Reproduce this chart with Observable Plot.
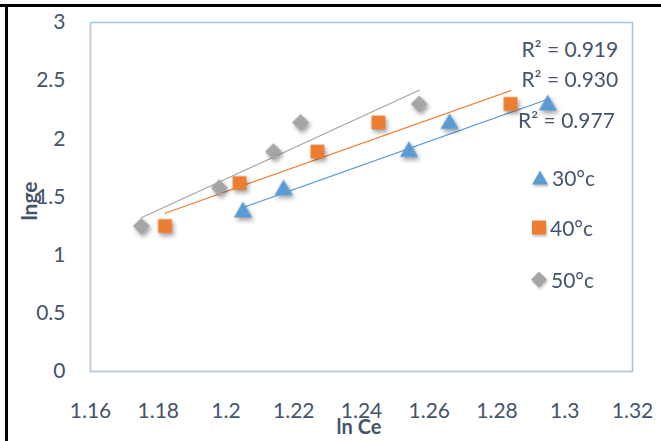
<!DOCTYPE html>
<html><head><meta charset="utf-8">
<script src="https://cdn.jsdelivr.net/npm/d3@7"></script>
<script src="https://cdn.jsdelivr.net/npm/@observablehq/plot@0.6"></script>
<style>
body{margin:0;background:#fff;}
#wrap{position:relative;width:661px;height:441px;overflow:hidden;font-family:Lato,"Open Sans",sans-serif;color:#44546a;}
.bt{position:absolute;left:0;top:4px;width:661px;height:3px;background:#000;}
.bl{position:absolute;left:5px;top:4px;width:3px;height:437px;background:#000;}
#chart svg g[aria-label="dot"]{filter:drop-shadow(2px 3px 2px rgba(0,0,0,0.35));}
.ttl{position:absolute;font-size:21px;font-weight:bold;white-space:nowrap;line-height:1;}
.leg{position:absolute;display:flex;align-items:center;font-size:21px;line-height:1;}
.leg svg{margin-right:3px;filter:drop-shadow(1px 2px 1px rgba(0,0,0,0.25));}
</style></head>
<body>
<div id="wrap">
  <div id="chart"></div>
  <div class="bt"></div><div class="bl"></div>
</div>
<script>
// ---- data ----
const series = ["30°c", "40°c", "50°c"];
const colors = ["#5b9bd5", "#ed7d31", "#a5a5a5"];
const x30 = [1.205, 1.217, 1.254, 1.266, 1.295];
const y30 = [1.37, 1.56, 1.89, 2.13, 2.29];
const x40 = [1.182, 1.204, 1.227, 1.245, 1.284];
const y40 = [1.25, 1.62, 1.89, 2.14, 2.30];
const x50 = [1.175, 1.198, 1.214, 1.222, 1.257];
const y50 = [1.25, 1.58, 1.89, 2.14, 2.30];
const r2Labels = ["R² = 0.919", "R² = 0.930", "R² = 0.977"];
const xTicks = [1.16, 1.18, 1.20, 1.22, 1.24, 1.26, 1.28, 1.30, 1.32];
const yTicks = [0, 0.5, 1, 1.5, 2, 2.5, 3];
const xTitle = "ln Ce";
const yTitle = "lnge";

// annotation placement (data coordinates)
const r2Pos = [{x: 1.3015, y: 2.76}, {x: 1.3015, y: 2.50}, {x: 1.3005, y: 2.15}];

const mk = (xs, ys, s) => xs.map((x, i) => ({x, y: ys[i], s}));
const d30 = mk(x30, y30, series[0]);
const d40 = mk(x40, y40, series[1]);
const d50 = mk(x50, y50, series[2]);
const r2 = r2Labels.map((t, i) => ({t, ...r2Pos[i]}));
const fmt = d => String(+d.toFixed(2));

const plot = Plot.plot({
  width: 661, height: 441,
  marginTop: 22, marginRight: 29, marginBottom: 70, marginLeft: 90,
  style: {fontFamily: "Lato, 'Open Sans', sans-serif", fontSize: "21px", color: "#44546a", background: "transparent", overflow: "visible"},
  x: {domain: [1.16, 1.32]},
  y: {domain: [0, 3]},
  marks: [
    Plot.frame({stroke: "#9dc3e6", strokeWidth: 1.5}),
    Plot.ruleX([1.16], {stroke: "#c3cbd9", strokeWidth: 1.5}),
    Plot.ruleY([0], {stroke: "#c3cbd9", strokeWidth: 1.5}),
    Plot.axisX({ticks: xTicks, tickSize: 0, tickPadding: 32, tickFormat: fmt, label: null, fill: "#44546a"}),
    Plot.axisY({ticks: yTicks, tickSize: 0, tickPadding: 25, tickFormat: fmt, label: null, fill: "#44546a"}),
    Plot.linearRegressionY(d50, {x: "x", y: "y", stroke: colors[2], strokeWidth: 1.2, ci: 0}),
    Plot.linearRegressionY(d40, {x: "x", y: "y", stroke: colors[1], strokeWidth: 1.2, ci: 0}),
    Plot.linearRegressionY(d30, {x: "x", y: "y", stroke: colors[0], strokeWidth: 1.2, ci: 0}),
    Plot.dot(d50, {x: "x", y: "y", symbol: "diamond2", fill: colors[2], r: 7.6}),
    Plot.dot(d40, {x: "x", y: "y", symbol: "square", fill: colors[1], r: 7.8}),
    Plot.dot(d30, {x: "x", y: "y", symbol: "triangle", fill: colors[0], r: 6.8}),
    Plot.text(r2, {x: "x", y: "y", text: "t", fill: "#44546a", fontSize: 21, textAnchor: "middle"})
  ]
});
document.getElementById("chart").appendChild(plot);

const wrap = document.getElementById("wrap");
// axis titles
const yt = document.createElement("div");
yt.className = "ttl"; yt.textContent = yTitle;
yt.style.left = "28px"; yt.style.top = "201px";
yt.style.transform = "translate(-50%,-50%) rotate(-90deg)";
wrap.appendChild(yt);
const xt = document.createElement("div");
xt.className = "ttl"; xt.textContent = xTitle; xt.style.fontSize = "20px";
xt.style.left = "359px"; xt.style.top = "426px";
xt.style.transform = "translate(-50%,-50%)";
wrap.appendChild(xt);

// legend
const shapes = [
  '<svg width="18" height="16" viewBox="0 0 18 16"><path d="M9 1 L17 15 L1 15 Z" fill="' + colors[0] + '"/></svg>',
  '<svg width="16" height="16" viewBox="0 0 16 16"><rect x="1" y="1" width="14" height="14" fill="' + colors[1] + '"/></svg>',
  '<svg width="18" height="18" viewBox="0 0 18 18"><path d="M9 1 L17 9 L9 17 L1 9 Z" fill="' + colors[2] + '"/></svg>'
];
const legTop = [177, 227, 279];
series.forEach((s, i) => {
  const d = document.createElement("div");
  d.className = "leg";
  d.innerHTML = shapes[i] + "<span>" + s + "</span>";
  d.style.left = (i === 2 ? 530 : 531) + "px"; d.style.top = legTop[i] + "px";
  d.style.transform = "translateY(-50%)";
  wrap.appendChild(d);
});
</script>
</body></html>
